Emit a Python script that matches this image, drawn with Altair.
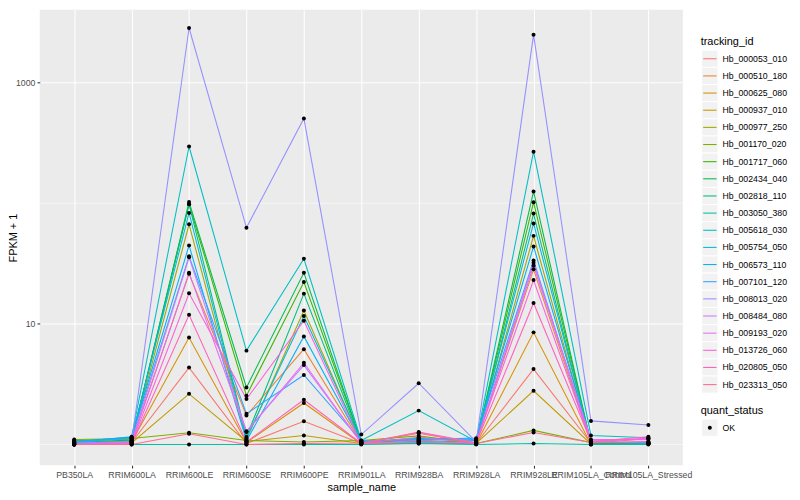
import altair as alt
import pandas as pd

samples = ["PB350LA", "RRIM600LA", "RRIM600LE", "RRIM600SE", "RRIM600PE",
           "RRIM901LA", "RRIM928BA", "RRIM928LA", "RRIM928LE",
           "RRIM105LA_Control", "RRIM105LA_Stressed"]

tracking_ids = ["Hb_000053_010", "Hb_000510_180", "Hb_000625_080", "Hb_000937_010",
                "Hb_000977_250", "Hb_001170_020", "Hb_001717_060", "Hb_002434_040",
                "Hb_002818_110", "Hb_003050_380", "Hb_005618_030", "Hb_005754_050",
                "Hb_006573_110", "Hb_007101_120", "Hb_008013_020", "Hb_008484_080",
                "Hb_009193_020", "Hb_013726_060", "Hb_020805_050", "Hb_023313_050"]

colors = ["#F8766D", "#EA8331", "#D89000", "#C09B00", "#A3A500", "#7CAE00", "#39B600",
          "#00BB4E", "#00BF7D", "#00C1A3", "#00BFC4", "#00BAE0", "#00B0F6", "#35A2FF",
          "#9590FF", "#C77CFF", "#E76BF3", "#FA62DB", "#FF62BC", "#FF6C91"]

# FPKM + 1 per sample, in tracking_ids order
pb350la = [1.02, 1.01, 1.0, 1.02, 1.03, 1.10, 1.08, 1.04, 1.03, 1.0,
           1.05, 1.04, 1.06, 1.05, 1.03, 1.01, 1.0, 1.0, 1.0, 1.0]
rrim600la = [1.04, 1.06, 1.05, 1.03, 1.08, 1.12, 1.10, 1.09, 1.07, 1.0,
             1.16, 1.14, 1.15, 1.13, 1.06, 1.05, 1.03, 1.02, 1.01, 1.0]
rrim600le = [4.34, 26.0, 7.7, 2.63, 66.9, 1.25, 98.0, 102.5, 98.0, 1.0,
             295.0, 83.0, 44.7, 36.3, 2830.0, 35.6, 26.5, 17.9, 11.9, 1.23]
rrim600se = [1.02, 1.74, 1.04, 1.06, 1.10, 1.08, 2.54, 2.97, 1.16, 1.0,
             6.0, 1.13, 1.07, 1.80, 62.7, 1.29, 1.27, 2.38, 1.05, 1.0]
rrim600pe = [1.56, 6.16, 2.21, 1.19, 12.9, 1.05, 22.2, 26.5, 17.8, 1.0,
             34.6, 11.6, 7.87, 3.77, 504.0, 4.55, 4.76, 10.6, 2.35, 1.02]
rrim901la = [1.02, 1.03, 1.01, 1.02, 1.04, 1.08, 1.06, 1.05, 1.04, 1.0,
             1.08, 1.06, 1.05, 1.07, 1.21, 1.03, 1.02, 1.01, 1.02, 1.03]
rrim928ba = [1.24, 1.05, 1.02, 1.04, 1.06, 1.18, 1.08, 1.07, 1.05, 1.02,
             1.91, 1.10, 1.13, 1.10, 3.22, 1.05, 1.08, 1.27, 1.15, 1.26]
rrim928la = [1.02, 1.03, 1.01, 1.02, 1.03, 1.02, 1.04, 1.03, 1.02, 1.0,
             1.06, 1.08, 1.10, 1.13, 1.05, 1.03, 1.02, 1.04, 1.03, 1.02]
rrim928le = [4.22, 28.3, 8.5, 2.79, 53.6, 1.31, 102.0, 125.0, 82.0, 1.02,
             267.0, 68.0, 43.8, 33.5, 2490.0, 32.1, 30.4, 23.1, 14.9, 1.26]
rrim105la_control = [1.03, 1.02, 1.0, 1.01, 1.02, 1.04, 1.03, 1.02, 1.01, 1.0,
                     1.19, 1.05, 1.06, 1.04, 1.57, 1.08, 1.10, 1.05, 1.06, 1.04]
rrim105la_stressed = [1.04, 1.12, 1.03, 1.02, 1.01, 1.02, 1.01, 1.02, 1.01, 1.0,
                      1.14, 1.03, 1.02, 1.03, 1.45, 1.06, 1.10, 1.13, 1.16, 1.05]

columns = [pb350la, rrim600la, rrim600le, rrim600se, rrim600pe, rrim901la,
           rrim928ba, rrim928la, rrim928le, rrim105la_control, rrim105la_stressed]

minor_breaks = [1, 100]
major_breaks = [10, 1000]

rows = []
for si, (s, col) in enumerate(zip(samples, columns)):
    for tid, v in zip(tracking_ids, col):
        rows.append({"sample_name": s, "idx": si, "tracking_id": tid,
                     "fpkm": v, "quant_status": "OK"})
df = pd.DataFrame(rows)

FONT = "Liberation Sans"
color_scale = alt.Scale(domain=tracking_ids, range=colors)

x_enc = alt.X("sample_name:N", sort=samples,
              scale=alt.Scale(type="point", padding=0.6),
              axis=alt.Axis(title="sample_name", labelAngle=0, labelOverlap=False,
                            labelFontSize=8.8, labelColor="#4D4D4D", labelFont=FONT,
                            labelPadding=2.2, tickSize=2.75, tickColor="#333333",
                            tickWidth=1.07, domain=False, grid=True, gridColor="white",
                            gridWidth=1.07, titleFontSize=11, titleFont=FONT,
                            titleFontWeight="normal", titleColor="black",
                            titlePadding=2.75))
y_scale = alt.Scale(type="log", domain=[0.672, 4000], nice=False, zero=False)
y_enc = alt.Y("fpkm:Q", scale=y_scale,
              axis=alt.Axis(title="FPKM + 1", values=major_breaks, format="d",
                            labelFontSize=8.8, labelColor="#4D4D4D", labelFont=FONT,
                            labelPadding=2.2, tickSize=2.75, tickColor="#333333",
                            tickWidth=1.07, domain=False, grid=True, gridColor="white",
                            gridWidth=1.07, titleFontSize=11, titleFont=FONT,
                            titleFontWeight="normal", titleColor="black",
                            titleAngle=270, titleBaseline="bottom", titleX=-21))

minor = alt.Chart(pd.DataFrame({"fpkm": minor_breaks})).mark_rule(
    color="white", strokeWidth=0.53).encode(y=alt.Y("fpkm:Q", scale=y_scale))

lines = alt.Chart(df).mark_line(strokeWidth=1.07).encode(
    x=x_enc, y=y_enc,
    color=alt.Color("tracking_id:N", scale=color_scale, legend=None),
    order=alt.Order("idx:Q"))

points = alt.Chart(df).mark_point(filled=True, color="black", size=16, opacity=1).encode(
    x=x_enc, y=y_enc)

main = alt.layer(minor, lines, points).properties(
    width=648, height=459,
    view=alt.ViewBackground(fill="#EBEBEB", strokeWidth=0))

# manual ggplot-style legend
KEY = 17.28
key_rows = []
for i, (tid, c) in enumerate(zip(tracking_ids, colors)):
    ky = 49.3 + KEY * i
    key_rows.append({"label": tid, "ky": ky, "y0": ky - KEY / 2, "y1": ky + KEY / 2})
ok_y = 421.0
line_keys = pd.DataFrame(key_rows)
all_keys = pd.DataFrame(key_rows + [{"label": "OK", "ky": ok_y,
                                     "y0": ok_y - KEY / 2, "y1": ok_y + KEY / 2}])
titles = pd.DataFrame({"label": ["tracking_id", "quant_status"], "ky": [32.0, 404.3]})

ly = alt.Scale(domain=[459, 0], nice=False, zero=False)

rects = alt.Chart(all_keys).mark_rect(fill="#F2F2F2", stroke="white", strokeWidth=1).encode(
    x=alt.value(1), x2=alt.value(17.5),
    y=alt.Y("y0:Q", scale=ly, axis=None), y2="y1:Q")
key_lines = alt.Chart(line_keys).mark_rule(strokeWidth=1.07).encode(
    x=alt.value(2.5), x2=alt.value(16),
    y=alt.Y("ky:Q", scale=ly, axis=None),
    color=alt.Color("label:N", scale=color_scale, legend=None))
key_point = alt.Chart(all_keys[all_keys["label"] == "OK"]).mark_point(
    filled=True, color="black", size=16, opacity=1).encode(
    x=alt.value(9.2), y=alt.Y("ky:Q", scale=ly, axis=None))
labels = alt.Chart(all_keys).mark_text(align="left", baseline="middle", fontSize=8.8,
                                       font=FONT, color="black").encode(
    x=alt.value(22), y=alt.Y("ky:Q", scale=ly, axis=None), text="label:N")
title_text = alt.Chart(titles).mark_text(align="left", baseline="middle", fontSize=11,
                                         font=FONT, color="black").encode(
    x=alt.value(0), y=alt.Y("ky:Q", scale=ly, axis=None), text="label:N")

legend = alt.layer(rects, key_lines, key_point, labels, title_text).properties(
    width=92, height=459,
    view=alt.ViewBackground(fill="white", strokeWidth=0))

chart = alt.hconcat(main, legend, spacing=8).properties(
    padding={"left": 0, "top": 0, "right": 0, "bottom": 0}
).configure_view(strokeWidth=0).resolve_scale(color="independent")

chart.save("out.html", embed_options={"renderer": "svg", "actions": False})
